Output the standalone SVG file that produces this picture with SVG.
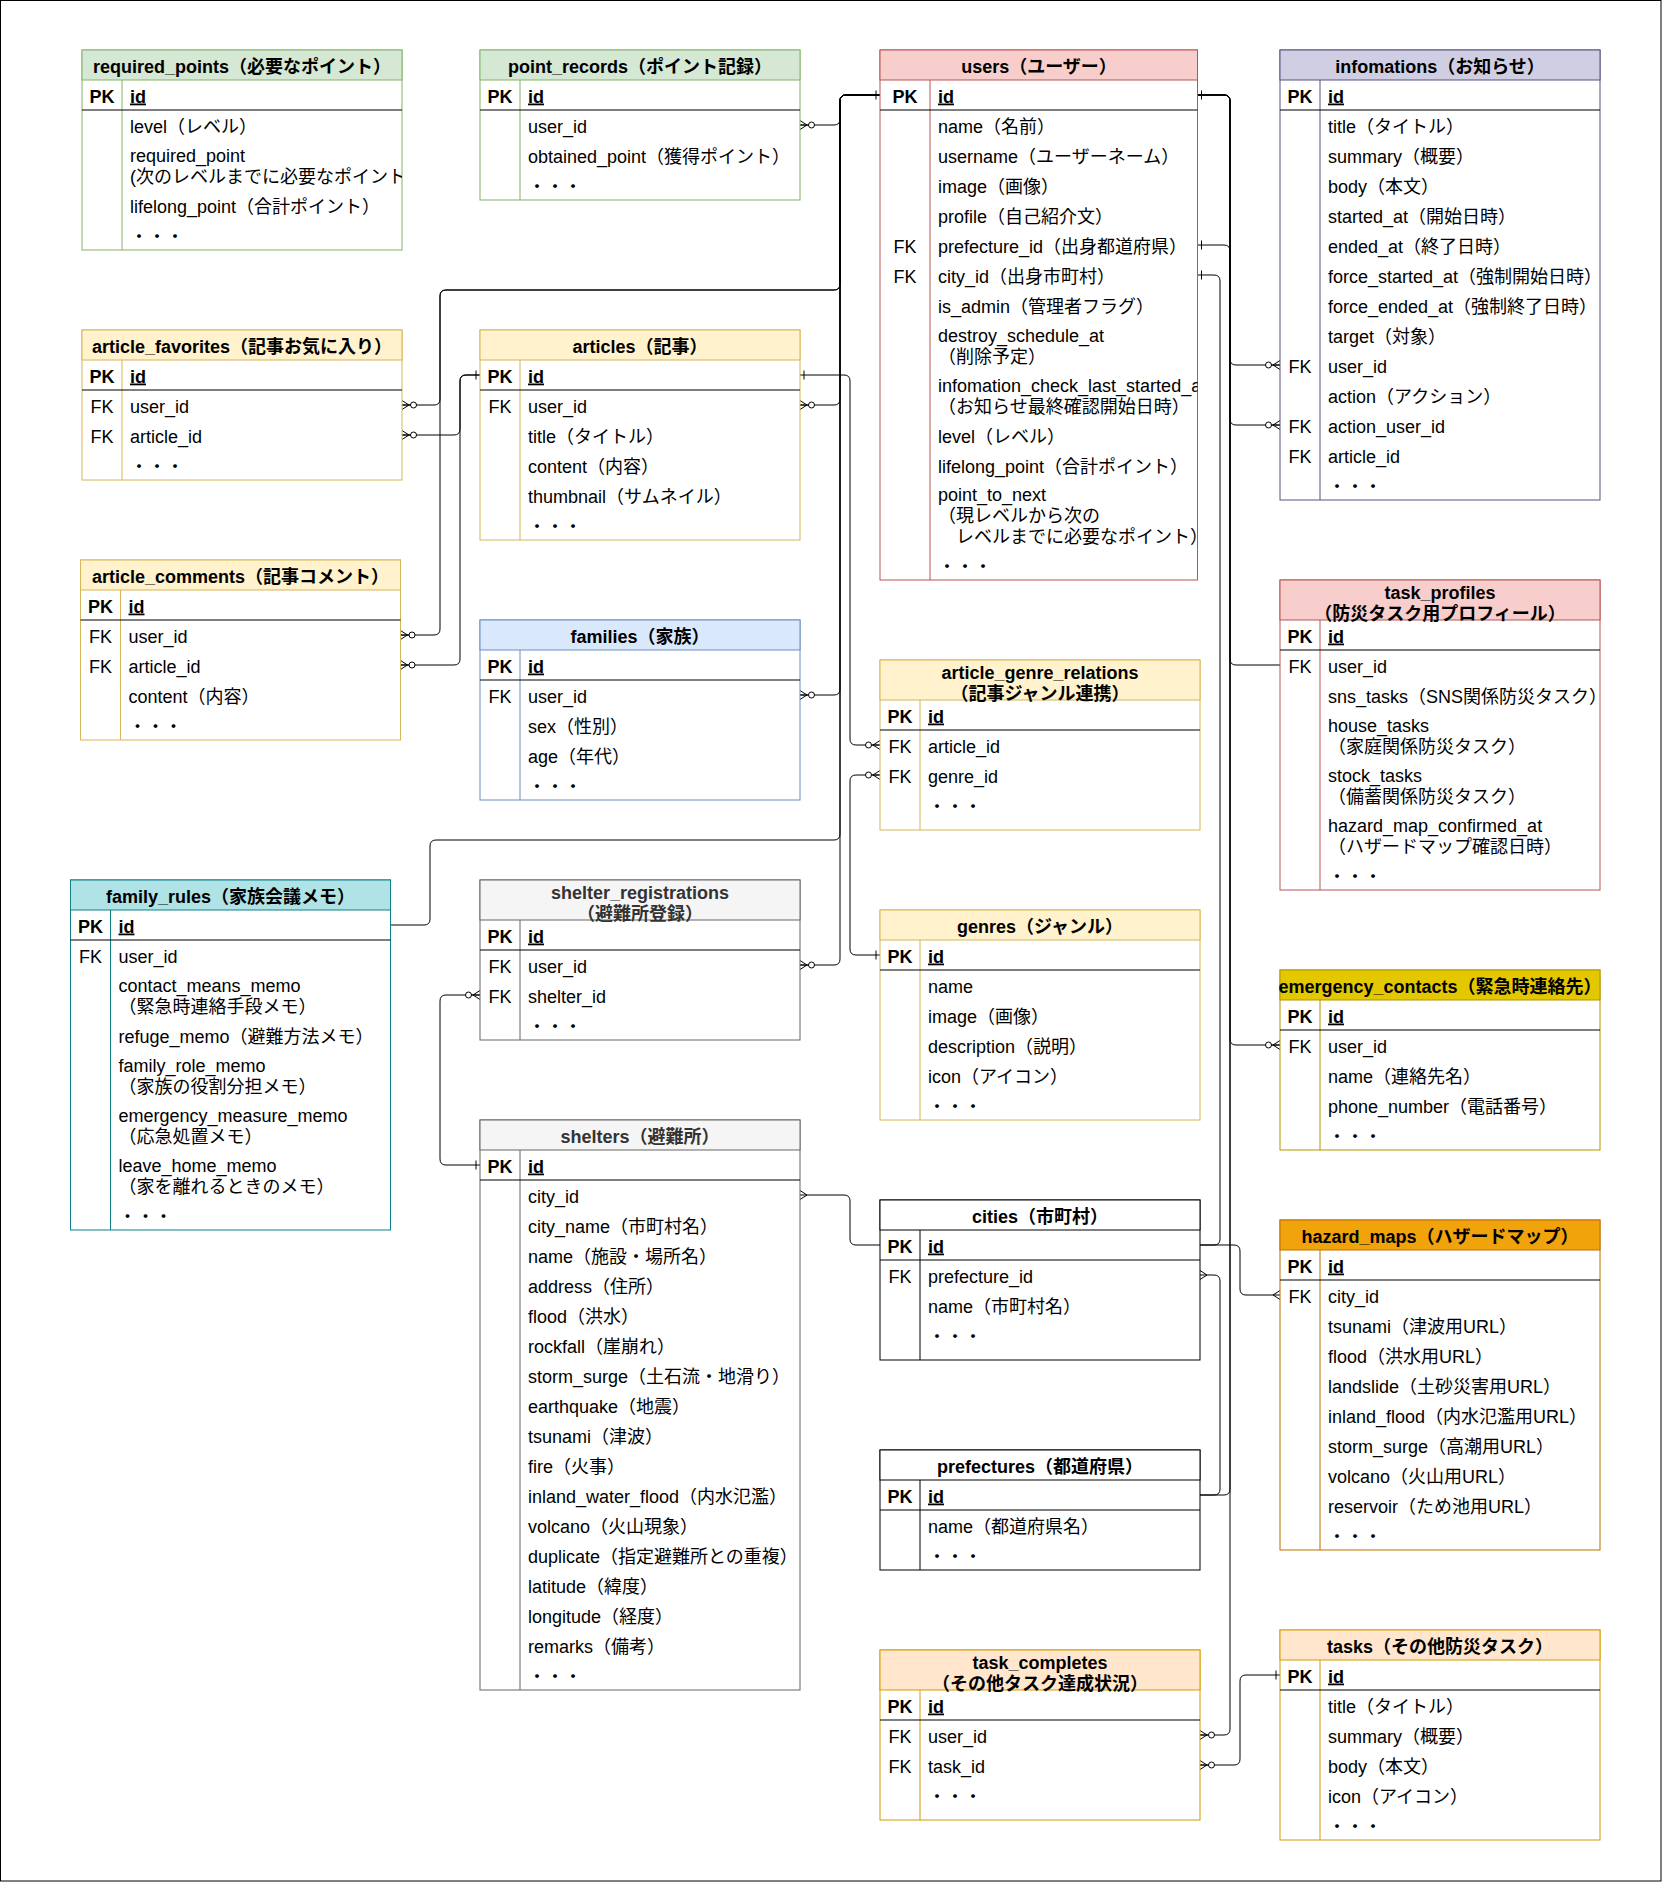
<svg xmlns="http://www.w3.org/2000/svg" xmlns:xlink="http://www.w3.org/1999/xlink" width="1662" height="1882" viewBox="0 0 1662 1882">
<style>
text{font-family:"Liberation Sans","Noto Sans CJK JP",sans-serif;font-size:18px;fill:#000}
.hd{font-weight:bold;text-anchor:middle}
.pk{font-weight:bold}
.kc{text-anchor:middle}
.id{font-weight:bold;text-decoration:underline}
.ln{fill:none;stroke:#000;stroke-width:1}
.bx{fill:#fff}
.pkl{stroke:#000;stroke-width:1.2}
.red rect,.red .dv{stroke:#b85450}.red .hf{fill:#f8cecc}
.grn rect,.grn .dv{stroke:#82b366}.grn .hf{fill:#d5e8d4}
.yel rect,.yel .dv{stroke:#d6b656}.yel .hf{fill:#fff2cc}
.pur rect,.pur .dv{stroke:#56517e}.pur .hf{fill:#d0cee2}
.blu rect,.blu .dv{stroke:#6c8ebf}.blu .hf{fill:#dae8fc}
.tea rect,.tea .dv{stroke:#0e8088}.tea .hf{fill:#b0e3e6}
.gry rect,.gry .dv{stroke:#666666}.gry .hf{fill:#f5f5f5}.gry .hd{fill:#333333}
.gol rect,.gol .dv{stroke:#b09500}.gol .hf{fill:#e3c800}
.org rect,.org .dv{stroke:#bd7000}.org .hf{fill:#f0a30a}
.pch rect,.pch .dv{stroke:#d79b00}.pch .hf{fill:#ffe6cc}
.blk rect,.blk .dv{stroke:#000}.blk .hf{fill:#fff}
.mc{fill:#fff;stroke:#000;stroke-width:1}
</style>
<defs>
<clipPath id="cu"><rect x="880" y="50" width="317.5" height="530"/></clipPath>
<clipPath id="cr"><rect x="82" y="50" width="320" height="200"/></clipPath>
<g id="zm"><path class="ln" d="M0,-4.5L7,0M0,4.5L7,0M0,0H8.5"/><circle class="mc" cx="11.5" cy="0" r="3"/></g>
<g id="mn"><path class="ln" d="M0,-4.5L7,0M0,4.5L7,0"/></g>
<g id="one"><path class="ln" d="M4,-4.5V4.5"/></g>
</defs>
<rect x="0.5" y="0.5" width="1660.5" height="1880.5" fill="#fff" stroke="#000"/>

<g id="connectors">
<path class="ln" d="M880,95 H846 Q840,95 840,101 V119 Q840,125 834,125 H800"/>
<path class="ln" d="M880,95 H846 Q840,95 840,101 V284 Q840,290 834,290 H446 Q440,290 440,296 V399 Q440,405 434,405 H402"/>
<path class="ln" d="M880,95 H846 Q840,95 840,101 V284 Q840,290 834,290 H446 Q440,290 440,296 V629 Q440,635 434,635 H400.5"/>
<path class="ln" d="M880,95 H846 Q840,95 840,101 V399 Q840,405 834,405 H800"/>
<path class="ln" d="M880,95 H846 Q840,95 840,101 V689 Q840,695 834,695 H800"/>
<path class="ln" d="M880,95 H846 Q840,95 840,101 V834 Q840,840 834,840 H436 Q430,840 430,846 V919 Q430,925 424,925 H390.5"/>
<path class="ln" d="M880,95 H846 Q840,95 840,101 V959 Q840,965 834,965 H800"/>
<path class="ln" d="M800,375 H844 Q850,375 850,381 V739 Q850,745 856,745 H880"/>
<path class="ln" d="M480,375 H466 Q460,375 460,381 V429 Q460,435 454,435 H402"/>
<path class="ln" d="M480,375 H466 Q460,375 460,381 V659 Q460,665 454,665 H400.5"/>
<path class="ln" d="M880,955 H856 Q850,955 850,949 V781 Q850,775 856,775 H880"/>
<path class="ln" d="M480,1165 H446 Q440,1165 440,1159 V1001 Q440,995 446,995 H480"/>
<path class="ln" d="M800,1195 H844 Q850,1195 850,1201 V1239 Q850,1245 856,1245 H880"/>
<path class="ln" d="M1197.5,95 H1224 Q1230,95 1230,101 V359 Q1230,365 1236,365 H1280"/>
<path class="ln" d="M1197.5,95 H1224 Q1230,95 1230,101 V419 Q1230,425 1236,425 H1280"/>
<path class="ln" d="M1197.5,95 H1224 Q1230,95 1230,101 V659 Q1230,665 1236,665 H1280"/>
<path class="ln" d="M1197.5,95 H1224 Q1230,95 1230,101 V1039 Q1230,1045 1236,1045 H1280"/>
<path class="ln" d="M1197.5,95 H1224 Q1230,95 1230,101 V1729 Q1230,1735 1224,1735 H1200"/>
<path class="ln" d="M1197.5,245 H1224 Q1230,245 1230,251 V1489 Q1230,1495 1224,1495 H1200"/>
<path class="ln" d="M1197.5,275 H1214 Q1220,275 1220,281 V1239 Q1220,1245 1214,1245 H1200"/>
<path class="ln" d="M1200,1245 H1234 Q1240,1245 1240,1251 V1289 Q1240,1295 1246,1295 H1280"/>
<path class="ln" d="M1200,1275 H1214 Q1220,1275 1220,1281 V1489 Q1220,1495 1214,1495 H1200"/>
<path class="ln" d="M1280,1675 H1246 Q1240,1675 1240,1681 V1759 Q1240,1765 1234,1765 H1200"/>
<use xlink:href="#one" transform="translate(880,95) scale(-1,1)"/>
<use xlink:href="#one" transform="translate(1197.5,95)"/>
<use xlink:href="#one" transform="translate(1197.5,245)"/>
<use xlink:href="#one" transform="translate(1197.5,275)"/>
<use xlink:href="#one" transform="translate(800,375)"/>
<use xlink:href="#one" transform="translate(480,375) scale(-1,1)"/>
<use xlink:href="#one" transform="translate(880,955) scale(-1,1)"/>
<use xlink:href="#one" transform="translate(480,1165) scale(-1,1)"/>
<use xlink:href="#one" transform="translate(1280,1675) scale(-1,1)"/>
<use xlink:href="#zm" transform="translate(800,125)"/>
<use xlink:href="#zm" transform="translate(402,405)"/>
<use xlink:href="#zm" transform="translate(402,435)"/>
<use xlink:href="#zm" transform="translate(400.5,635)"/>
<use xlink:href="#zm" transform="translate(400.5,665)"/>
<use xlink:href="#zm" transform="translate(800,405)"/>
<use xlink:href="#zm" transform="translate(800,695)"/>
<use xlink:href="#zm" transform="translate(800,965)"/>
<use xlink:href="#zm" transform="translate(880,745) scale(-1,1)"/>
<use xlink:href="#zm" transform="translate(880,775) scale(-1,1)"/>
<use xlink:href="#zm" transform="translate(480,995) scale(-1,1)"/>
<use xlink:href="#zm" transform="translate(1280,365) scale(-1,1)"/>
<use xlink:href="#zm" transform="translate(1280,425) scale(-1,1)"/>
<use xlink:href="#zm" transform="translate(1280,1045) scale(-1,1)"/>
<use xlink:href="#zm" transform="translate(1200,1735)"/>
<use xlink:href="#zm" transform="translate(1200,1765)"/>
<use xlink:href="#mn" transform="translate(800,1195)"/>
<use xlink:href="#mn" transform="translate(1280,1295) scale(-1,1)"/>
<use xlink:href="#mn" transform="translate(1200,1275)"/>
</g>

<g id="required_points" class="grn">
<rect class="bx" x="82" y="50" width="320" height="200"/>
<rect class="hf" x="82" y="50" width="320" height="30"/>
<line class="dv" x1="122" y1="80" x2="122" y2="250"/>
<line class="pkl" x1="82" y1="110" x2="402" y2="110"/>
<text class="hd" x="242" y="73">required_points（必要なポイント）</text>
<text class="kc pk" x="102" y="102.5">PK</text><text class="id" x="130" y="102.5">id</text>
<text x="130" y="132.5">level（レベル）</text>
<text x="130" y="162">required_point</text>
<text x="130" y="183" clip-path="url(#cr)">(次のレベルまでに必要なポイント</text>
<text x="130" y="212.5">lifelong_point（合計ポイント）</text>
<text x="130" y="242.5">・・・</text>
</g>

<g id="point_records" class="grn">
<rect class="bx" x="480" y="50" width="320" height="150"/>
<rect class="hf" x="480" y="50" width="320" height="30"/>
<line class="dv" x1="520" y1="80" x2="520" y2="200"/>
<line class="pkl" x1="480" y1="110" x2="800" y2="110"/>
<text class="hd" x="640" y="73">point_records（ポイント記録）</text>
<text class="kc pk" x="500" y="102.5">PK</text><text class="id" x="528" y="102.5">id</text>
<text x="528" y="132.5">user_id</text>
<text x="528" y="162.5">obtained_point（獲得ポイント）</text>
<text x="528" y="192.5">・・・</text>
</g>

<g id="users" class="red">
<rect class="bx" x="880" y="50" width="317.5" height="530"/>
<rect class="hf" x="880" y="50" width="317.5" height="30"/>
<line class="dv" x1="930" y1="80" x2="930" y2="580"/>
<line class="pkl" x1="880" y1="110" x2="1197.5" y2="110"/>
<text class="hd" x="1039" y="73">users（ユーザー）</text>
<text class="kc pk" x="905" y="102.5">PK</text><text class="id" x="938" y="102.5">id</text>
<text x="938" y="132.5">name（名前）</text>
<text x="938" y="162.5">username（ユーザーネーム）</text>
<text x="938" y="192.5">image（画像）</text>
<text x="938" y="222.5">profile（自己紹介文）</text>
<text class="kc" x="905" y="252.5">FK</text><text x="938" y="252.5">prefecture_id（出身都道府県）</text>
<text class="kc" x="905" y="282.5">FK</text><text x="938" y="282.5">city_id（出身市町村）</text>
<text x="938" y="312.5">is_admin（管理者フラグ）</text>
<text x="938" y="342">destroy_schedule_at</text>
<text x="938" y="363">（削除予定）</text>
<text x="938" y="392" clip-path="url(#cu)">infomation_check_last_started_a</text>
<text x="938" y="413">（お知らせ最終確認開始日時）</text>
<text x="938" y="442.5">level（レベル）</text>
<text x="938" y="472.5">lifelong_point（合計ポイント）</text>
<text x="938" y="501">point_to_next</text>
<text x="938" y="522">（現レベルから次の</text>
<text x="938" y="543" clip-path="url(#cu)">　レベルまでに必要なポイント）</text>
<text x="938" y="572.5">・・・</text>
</g>

<g id="infomations" class="pur">
<rect class="bx" x="1280" y="50" width="320" height="450"/>
<rect class="hf" x="1280" y="50" width="320" height="30"/>
<line class="dv" x1="1320" y1="80" x2="1320" y2="500"/>
<line class="pkl" x1="1280" y1="110" x2="1600" y2="110"/>
<text class="hd" x="1440" y="73">infomations（お知らせ）</text>
<text class="kc pk" x="1300" y="102.5">PK</text><text class="id" x="1328" y="102.5">id</text>
<text x="1328" y="132.5">title（タイトル）</text>
<text x="1328" y="162.5">summary（概要）</text>
<text x="1328" y="192.5">body（本文）</text>
<text x="1328" y="222.5">started_at（開始日時）</text>
<text x="1328" y="252.5">ended_at（終了日時）</text>
<text x="1328" y="282.5">force_started_at（強制開始日時）</text>
<text x="1328" y="312.5">force_ended_at（強制終了日時）</text>
<text x="1328" y="342.5">target（対象）</text>
<text class="kc" x="1300" y="372.5">FK</text><text x="1328" y="372.5">user_id</text>
<text x="1328" y="402.5">action（アクション）</text>
<text class="kc" x="1300" y="432.5">FK</text><text x="1328" y="432.5">action_user_id</text>
<text class="kc" x="1300" y="462.5">FK</text><text x="1328" y="462.5">article_id</text>
<text x="1328" y="492.5">・・・</text>
</g>

<g id="article_favorites" class="yel">
<rect class="bx" x="82" y="330" width="320" height="150"/>
<rect class="hf" x="82" y="330" width="320" height="30"/>
<line class="dv" x1="122" y1="360" x2="122" y2="480"/>
<line class="pkl" x1="82" y1="390" x2="402" y2="390"/>
<text class="hd" x="242" y="353">article_favorites（記事お気に入り）</text>
<text class="kc pk" x="102" y="382.5">PK</text><text class="id" x="130" y="382.5">id</text>
<text class="kc" x="102" y="412.5">FK</text><text x="130" y="412.5">user_id</text>
<text class="kc" x="102" y="442.5">FK</text><text x="130" y="442.5">article_id</text>
<text x="130" y="472.5">・・・</text>
</g>

<g id="articles" class="yel">
<rect class="bx" x="480" y="330" width="320" height="210"/>
<rect class="hf" x="480" y="330" width="320" height="30"/>
<line class="dv" x1="520" y1="360" x2="520" y2="540"/>
<line class="pkl" x1="480" y1="390" x2="800" y2="390"/>
<text class="hd" x="640" y="353">articles（記事）</text>
<text class="kc pk" x="500" y="382.5">PK</text><text class="id" x="528" y="382.5">id</text>
<text class="kc" x="500" y="412.5">FK</text><text x="528" y="412.5">user_id</text>
<text x="528" y="442.5">title（タイトル）</text>
<text x="528" y="472.5">content（内容）</text>
<text x="528" y="502.5">thumbnail（サムネイル）</text>
<text x="528" y="532.5">・・・</text>
</g>

<g id="article_comments" class="yel">
<rect class="bx" x="80.5" y="560" width="320" height="180"/>
<rect class="hf" x="80.5" y="560" width="320" height="30"/>
<line class="dv" x1="120.5" y1="590" x2="120.5" y2="740"/>
<line class="pkl" x1="80.5" y1="620" x2="400.5" y2="620"/>
<text class="hd" x="240.5" y="583">article_comments（記事コメント）</text>
<text class="kc pk" x="100.5" y="612.5">PK</text><text class="id" x="128.5" y="612.5">id</text>
<text class="kc" x="100.5" y="642.5">FK</text><text x="128.5" y="642.5">user_id</text>
<text class="kc" x="100.5" y="672.5">FK</text><text x="128.5" y="672.5">article_id</text>
<text x="128.5" y="702.5">content（内容）</text>
<text x="128.5" y="732.5">・・・</text>
</g>

<g id="families" class="blu">
<rect class="bx" x="480" y="620" width="320" height="180"/>
<rect class="hf" x="480" y="620" width="320" height="30"/>
<line class="dv" x1="520" y1="650" x2="520" y2="800"/>
<line class="pkl" x1="480" y1="680" x2="800" y2="680"/>
<text class="hd" x="640" y="643">families（家族）</text>
<text class="kc pk" x="500" y="672.5">PK</text><text class="id" x="528" y="672.5">id</text>
<text class="kc" x="500" y="702.5">FK</text><text x="528" y="702.5">user_id</text>
<text x="528" y="732.5">sex（性別）</text>
<text x="528" y="762.5">age（年代）</text>
<text x="528" y="792.5">・・・</text>
</g>

<g id="article_genre_relations" class="yel">
<rect class="bx" x="880" y="660" width="320" height="170"/>
<rect class="hf" x="880" y="660" width="320" height="40"/>
<line class="dv" x1="920" y1="700" x2="920" y2="830"/>
<line class="pkl" x1="880" y1="730" x2="1200" y2="730"/>
<text class="hd" x="1040" y="678.5">article_genre_relations</text>
<text class="hd" x="1040" y="699.5">（記事ジャンル連携）</text>
<text class="kc pk" x="900" y="722.5">PK</text><text class="id" x="928" y="722.5">id</text>
<text class="kc" x="900" y="752.5">FK</text><text x="928" y="752.5">article_id</text>
<text class="kc" x="900" y="782.5">FK</text><text x="928" y="782.5">genre_id</text>
<text x="928" y="812.5">・・・</text>
</g>

<g id="genres" class="yel">
<rect class="bx" x="880" y="910" width="320" height="210"/>
<rect class="hf" x="880" y="910" width="320" height="30"/>
<line class="dv" x1="920" y1="940" x2="920" y2="1120"/>
<line class="pkl" x1="880" y1="970" x2="1200" y2="970"/>
<text class="hd" x="1040" y="933">genres（ジャンル）</text>
<text class="kc pk" x="900" y="962.5">PK</text><text class="id" x="928" y="962.5">id</text>
<text x="928" y="992.5">name</text>
<text x="928" y="1022.5">image（画像）</text>
<text x="928" y="1052.5">description（説明）</text>
<text x="928" y="1082.5">icon（アイコン）</text>
<text x="928" y="1112.5">・・・</text>
</g>

<g id="task_profiles" class="red">
<rect class="bx" x="1280" y="580" width="320" height="310"/>
<rect class="hf" x="1280" y="580" width="320" height="40"/>
<line class="dv" x1="1320" y1="620" x2="1320" y2="890"/>
<line class="pkl" x1="1280" y1="650" x2="1600" y2="650"/>
<text class="hd" x="1440" y="598.5">task_profiles</text>
<text class="hd" x="1440" y="619.5">（防災タスク用プロフィール）</text>
<text class="kc pk" x="1300" y="642.5">PK</text><text class="id" x="1328" y="642.5">id</text>
<text class="kc" x="1300" y="672.5">FK</text><text x="1328" y="672.5">user_id</text>
<text x="1328" y="702.5">sns_tasks（SNS関係防災タスク）</text>
<text x="1328" y="732">house_tasks</text>
<text x="1328" y="753">（家庭関係防災タスク）</text>
<text x="1328" y="782">stock_tasks</text>
<text x="1328" y="803">（備蓄関係防災タスク）</text>
<text x="1328" y="832">hazard_map_confirmed_at</text>
<text x="1328" y="853">（ハザードマップ確認日時）</text>
<text x="1328" y="882.5">・・・</text>
</g>

<g id="family_rules" class="tea">
<rect class="bx" x="70.5" y="880" width="320" height="350"/>
<rect class="hf" x="70.5" y="880" width="320" height="30"/>
<line class="dv" x1="110.5" y1="910" x2="110.5" y2="1230"/>
<line class="pkl" x1="70.5" y1="940" x2="390.5" y2="940"/>
<text class="hd" x="230.5" y="903">family_rules（家族会議メモ）</text>
<text class="kc pk" x="90.5" y="932.5">PK</text><text class="id" x="118.5" y="932.5">id</text>
<text class="kc" x="90.5" y="962.5">FK</text><text x="118.5" y="962.5">user_id</text>
<text x="118.5" y="992">contact_means_memo</text>
<text x="118.5" y="1013">（緊急時連絡手段メモ）</text>
<text x="118.5" y="1042.5">refuge_memo（避難方法メモ）</text>
<text x="118.5" y="1072">family_role_memo</text>
<text x="118.5" y="1093">（家族の役割分担メモ）</text>
<text x="118.5" y="1122">emergency_measure_memo</text>
<text x="118.5" y="1143">（応急処置メモ）</text>
<text x="118.5" y="1172">leave_home_memo</text>
<text x="118.5" y="1193">（家を離れるときのメモ）</text>
<text x="118.5" y="1222.5">・・・</text>
</g>

<g id="shelter_registrations" class="gry">
<rect class="bx" x="480" y="880" width="320" height="160"/>
<rect class="hf" x="480" y="880" width="320" height="40"/>
<line class="dv" x1="520" y1="920" x2="520" y2="1040"/>
<line class="pkl" x1="480" y1="950" x2="800" y2="950"/>
<text class="hd" x="640" y="898.5">shelter_registrations</text>
<text class="hd" x="640" y="919.5">（避難所登録）</text>
<text class="kc pk" x="500" y="942.5">PK</text><text class="id" x="528" y="942.5">id</text>
<text class="kc" x="500" y="972.5">FK</text><text x="528" y="972.5">user_id</text>
<text class="kc" x="500" y="1002.5">FK</text><text x="528" y="1002.5">shelter_id</text>
<text x="528" y="1032.5">・・・</text>
</g>

<g id="shelters" class="gry">
<rect class="bx" x="480" y="1120" width="320" height="570"/>
<rect class="hf" x="480" y="1120" width="320" height="30"/>
<line class="dv" x1="520" y1="1150" x2="520" y2="1690"/>
<line class="pkl" x1="480" y1="1180" x2="800" y2="1180"/>
<text class="hd" x="640" y="1143">shelters（避難所）</text>
<text class="kc pk" x="500" y="1172.5">PK</text><text class="id" x="528" y="1172.5">id</text>
<text x="528" y="1202.5">city_id</text>
<text x="528" y="1232.5">city_name（市町村名）</text>
<text x="528" y="1262.5">name（施設・場所名）</text>
<text x="528" y="1292.5">address（住所）</text>
<text x="528" y="1322.5">flood（洪水）</text>
<text x="528" y="1352.5">rockfall（崖崩れ）</text>
<text x="528" y="1382.5">storm_surge（土石流・地滑り）</text>
<text x="528" y="1412.5">earthquake（地震）</text>
<text x="528" y="1442.5">tsunami（津波）</text>
<text x="528" y="1472.5">fire（火事）</text>
<text x="528" y="1502.5">inland_water_flood（内水氾濫）</text>
<text x="528" y="1532.5">volcano（火山現象）</text>
<text x="528" y="1562.5">duplicate（指定避難所との重複）</text>
<text x="528" y="1592.5">latitude（緯度）</text>
<text x="528" y="1622.5">longitude（経度）</text>
<text x="528" y="1652.5">remarks（備考）</text>
<text x="528" y="1682.5">・・・</text>
</g>

<g id="emergency_contacts" class="gol">
<rect class="bx" x="1280" y="970" width="320" height="180"/>
<rect class="hf" x="1280" y="970" width="320" height="30"/>
<line class="dv" x1="1320" y1="1000" x2="1320" y2="1150"/>
<line class="pkl" x1="1280" y1="1030" x2="1600" y2="1030"/>
<text class="hd" x="1440" y="993">emergency_contacts（緊急時連絡先）</text>
<text class="kc pk" x="1300" y="1022.5">PK</text><text class="id" x="1328" y="1022.5">id</text>
<text class="kc" x="1300" y="1052.5">FK</text><text x="1328" y="1052.5">user_id</text>
<text x="1328" y="1082.5">name（連絡先名）</text>
<text x="1328" y="1112.5">phone_number（電話番号）</text>
<text x="1328" y="1142.5">・・・</text>
</g>

<g id="cities" class="blk">
<rect class="bx" x="880" y="1200" width="320" height="160"/>
<rect class="hf" x="880" y="1200" width="320" height="30"/>
<line class="dv" x1="920" y1="1230" x2="920" y2="1360"/>
<line class="pkl" x1="880" y1="1260" x2="1200" y2="1260"/>
<text class="hd" x="1040" y="1223">cities（市町村）</text>
<text class="kc pk" x="900" y="1252.5">PK</text><text class="id" x="928" y="1252.5">id</text>
<text class="kc" x="900" y="1282.5">FK</text><text x="928" y="1282.5">prefecture_id</text>
<text x="928" y="1312.5">name（市町村名）</text>
<text x="928" y="1342.5">・・・</text>
</g>

<g id="hazard_maps" class="org">
<rect class="bx" x="1280" y="1220" width="320" height="330"/>
<rect class="hf" x="1280" y="1220" width="320" height="30"/>
<line class="dv" x1="1320" y1="1250" x2="1320" y2="1550"/>
<line class="pkl" x1="1280" y1="1280" x2="1600" y2="1280"/>
<text class="hd" x="1440" y="1243">hazard_maps（ハザードマップ）</text>
<text class="kc pk" x="1300" y="1272.5">PK</text><text class="id" x="1328" y="1272.5">id</text>
<text class="kc" x="1300" y="1302.5">FK</text><text x="1328" y="1302.5">city_id</text>
<text x="1328" y="1332.5">tsunami（津波用URL）</text>
<text x="1328" y="1362.5">flood（洪水用URL）</text>
<text x="1328" y="1392.5">landslide（土砂災害用URL）</text>
<text x="1328" y="1422.5">inland_flood（内水氾濫用URL）</text>
<text x="1328" y="1452.5">storm_surge（高潮用URL）</text>
<text x="1328" y="1482.5">volcano（火山用URL）</text>
<text x="1328" y="1512.5">reservoir（ため池用URL）</text>
<text x="1328" y="1542.5">・・・</text>
</g>

<g id="prefectures" class="blk">
<rect class="bx" x="880" y="1450" width="320" height="120"/>
<rect class="hf" x="880" y="1450" width="320" height="30"/>
<line class="dv" x1="920" y1="1480" x2="920" y2="1570"/>
<line class="pkl" x1="880" y1="1510" x2="1200" y2="1510"/>
<text class="hd" x="1040" y="1473">prefectures（都道府県）</text>
<text class="kc pk" x="900" y="1502.5">PK</text><text class="id" x="928" y="1502.5">id</text>
<text x="928" y="1532.5">name（都道府県名）</text>
<text x="928" y="1562.5">・・・</text>
</g>

<g id="task_completes" class="pch">
<rect class="bx" x="880" y="1650" width="320" height="170"/>
<rect class="hf" x="880" y="1650" width="320" height="40"/>
<line class="dv" x1="920" y1="1690" x2="920" y2="1820"/>
<line class="pkl" x1="880" y1="1720" x2="1200" y2="1720"/>
<text class="hd" x="1040" y="1668.5">task_completes</text>
<text class="hd" x="1040" y="1689.5">（その他タスク達成状況）</text>
<text class="kc pk" x="900" y="1712.5">PK</text><text class="id" x="928" y="1712.5">id</text>
<text class="kc" x="900" y="1742.5">FK</text><text x="928" y="1742.5">user_id</text>
<text class="kc" x="900" y="1772.5">FK</text><text x="928" y="1772.5">task_id</text>
<text x="928" y="1802.5">・・・</text>
</g>

<g id="tasks" class="pch">
<rect class="bx" x="1280" y="1630" width="320" height="210"/>
<rect class="hf" x="1280" y="1630" width="320" height="30"/>
<line class="dv" x1="1320" y1="1660" x2="1320" y2="1840"/>
<line class="pkl" x1="1280" y1="1690" x2="1600" y2="1690"/>
<text class="hd" x="1440" y="1653">tasks（その他防災タスク）</text>
<text class="kc pk" x="1300" y="1682.5">PK</text><text class="id" x="1328" y="1682.5">id</text>
<text x="1328" y="1712.5">title（タイトル）</text>
<text x="1328" y="1742.5">summary（概要）</text>
<text x="1328" y="1772.5">body（本文）</text>
<text x="1328" y="1802.5">icon（アイコン）</text>
<text x="1328" y="1832.5">・・・</text>
</g>
</svg>
